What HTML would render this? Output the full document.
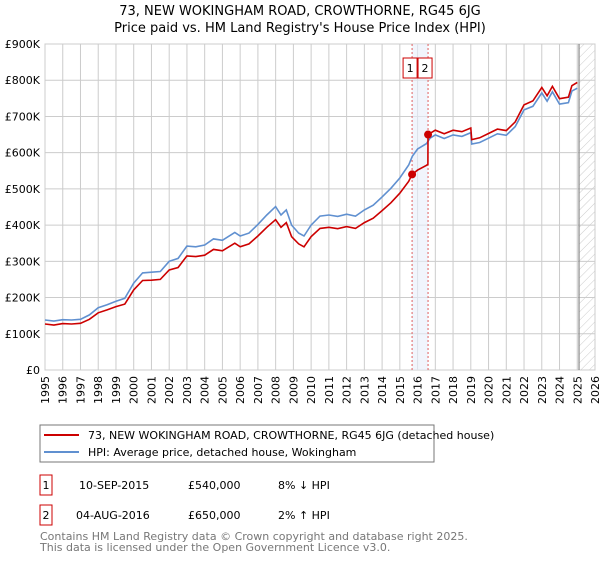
<!DOCTYPE html>
<html><head><meta charset="utf-8"><style>
body{margin:0;background:#fff;font-family:"DejaVu Sans","Liberation Sans",sans-serif;}
svg text{font-family:"DejaVu Sans","Liberation Sans",sans-serif;}
</style></head><body>
<svg id="chart" width="600" height="560" viewBox="0 0 600 560" xmlns="http://www.w3.org/2000/svg">
<defs><pattern id="hatch" width="6" height="6" patternUnits="userSpaceOnUse" patternTransform="rotate(45)"><line x1="0" y1="0" x2="0" y2="6" stroke="#ccc" stroke-width="1"/></pattern></defs>
<text x="300" y="15" text-anchor="middle" font-size="13">73, NEW WOKINGHAM ROAD, CROWTHORNE, RG45 6JG</text>
<text x="300" y="32" text-anchor="middle" font-size="13">Price paid vs. HM Land Registry's House Price Index (HPI)</text>
<g id="grid"></g><g id="marks"></g><g id="axes"></g>
<rect x="40" y="425" width="394" height="37" fill="#fff" stroke="#777"/>
<line x1="44" y1="435" x2="79" y2="435" stroke="#cc0000" stroke-width="2"/>
<text x="88" y="439" font-size="11">73, NEW WOKINGHAM ROAD, CROWTHORNE, RG45 6JG (detached house)</text>
<line x1="44" y1="452" x2="79" y2="452" stroke="#6090d0" stroke-width="2"/>
<text x="88" y="456" font-size="11">HPI: Average price, detached house, Wokingham</text>
<g font-size="11">
<rect x="40" y="475" width="12" height="20" fill="none" stroke="#cc0000"/><text x="46" y="489" text-anchor="middle">1</text>
<text x="79" y="489">10-SEP-2015</text><text x="188" y="489">£540,000</text><text x="278" y="489">8% ↓ HPI</text></g>
<g font-size="11">
<rect x="40" y="505" width="12" height="20" fill="none" stroke="#cc0000"/><text x="46" y="519" text-anchor="middle">2</text>
<text x="76" y="519">04-AUG-2016</text><text x="188" y="519">£650,000</text><text x="278" y="519">2% ↑ HPI</text></g>
<text x="40" y="540" font-size="11" fill="#777">Contains HM Land Registry data © Crown copyright and database right 2025.</text>
<text x="40" y="551" font-size="11" fill="#777">This data is licensed under the Open Government Licence v3.0.</text>
</svg>
<script>
const hpiYears=[1995,1995.5,1996,1996.5,1997,1997.5,1998,1998.5,1999,1999.5,2000,2000.5,2001,2001.5,2002,2002.5,2003,2003.5,2004,2004.5,2005,2005.7,2006,2006.5,2007,2007.5,2008,2008.3,2008.6,2008.9,2009.3,2009.6,2010,2010.5,2011,2011.5,2012,2012.5,2013,2013.5,2014,2014.5,2015,2015.5,2015.7,2016,2016.5,2016.7,2017,2017.5,2018,2018.5,2019,2019.05,2019.5,2020,2020.5,2021,2021.5,2022,2022.5,2023,2023.3,2023.6,2024,2024.5,2024.7,2025];
const hpiValues=[138,135,139,138,140,152,172,180,190,198,240,268,270,272,300,308,342,340,345,362,358,380,370,378,402,428,451,428,442,400,378,370,400,425,428,424,430,425,442,455,478,502,530,566,590,610,625,640,649,639,649,645,655,624,628,640,652,648,672,718,728,765,742,768,734,738,770,778];
const priceYears=[1995,1995.5,1996,1996.5,1997,1997.5,1998,1998.5,1999,1999.5,2000,2000.5,2001,2001.5,2002,2002.5,2003,2003.5,2004,2004.5,2005,2005.7,2006,2006.5,2007,2007.5,2008,2008.3,2008.6,2008.9,2009.3,2009.6,2010,2010.5,2011,2011.5,2012,2012.5,2013,2013.5,2014,2014.5,2015,2015.5,2015.69,2016,2016.5,2016.58,2016.59,2017,2017.5,2018,2018.5,2019,2019.05,2019.5,2020,2020.5,2021,2021.5,2022,2022.5,2023,2023.3,2023.6,2024,2024.5,2024.7,2025];
const priceValues=[127,124,128,127,129,140,158,166,175,182,221,247,248,250,276,283,315,313,317,333,329,350,340,348,370,394,415,394,407,368,348,340,368,391,394,390,396,391,407,419,440,462,488,521,540,552,565,568,650,662,652,662,658,668,636,641,653,665,661,685,732,743,780,757,783,749,753,785,794];
const saleYears=[2015.69,2016.59];
const saleValues=[540,650];
const saleLabels=["1","2"];
const yTicks=[0,100,200,300,400,500,600,700,800,900];
const yTickLabels=["£0","£100K","£200K","£300K","£400K","£500K","£600K","£700K","£800K","£900K"];
const xTicks=[1995,1996,1997,1998,1999,2000,2001,2002,2003,2004,2005,2006,2007,2008,2009,2010,2011,2012,2013,2014,2015,2016,2017,2018,2019,2020,2021,2022,2023,2024,2025,2026];
const dataEndYear=2025.1;

const X0=45,X1=595,Y0=370,Y1=44;
const xs=y=>X0+(y-1995)/(2026-1995)*(X1-X0);
const ys=v=>Y0-v/900*(Y0-Y1);
const NS="http://www.w3.org/2000/svg";
function mk(parent,tag,attrs){const e=document.createElementNS(NS,tag);for(const k in attrs)e.setAttribute(k,attrs[k]);parent.appendChild(e);return e;}
const grid=document.getElementById('grid'),marks=document.getElementById('marks'),axes=document.getElementById('axes');
let r=mk(grid,'rect',{x:X0,y:Y1,width:X1-X0,height:Y0-Y1,fill:'#fff',stroke:'#ccc'});


yTicks.forEach((v,i)=>{
 const l=mk(grid,'line',{x1:X0,x2:X1,y1:ys(v),y2:ys(v),stroke:'#ccc'});
 
 
 const t=mk(axes,'text',{x:X0-5,y:ys(v)+4,'text-anchor':'end','font-size':'11'});
 t.textContent=yTickLabels[i];
 
 
});
xTicks.forEach(yr=>{
 const l=mk(grid,'line',{x1:xs(yr),x2:xs(yr),y1:Y1,y2:Y0,stroke:'#ccc'});
 
 
 const x=xs(yr)+4,y=Y0+6;
 const t=mk(axes,'text',{x:x,y:y,'text-anchor':'end','font-size':'11',transform:`rotate(-90 ${x} ${y})`});
 t.textContent=yr;
 
 
});
const h=mk(grid,'rect',{x:xs(dataEndYear),y:Y1,width:X1-xs(dataEndYear),height:Y0-Y1,fill:'url(#hatch)'});


const el=mk(grid,'line',{x1:xs(dataEndYear),x2:xs(dataEndYear),y1:Y1,y2:Y0,stroke:'#888','stroke-width':1.2});


const band=mk(grid,'rect',{x:xs(saleYears[0]),y:Y1,width:xs(saleYears[1])-xs(saleYears[0]),height:Y0-Y1,fill:'#e8eefa',opacity:0.6});


saleYears.forEach((yr,i)=>{
 const l=mk(grid,'line',{x1:xs(yr),x2:xs(yr),y1:Y1,y2:Y0,stroke:'#e06060','stroke-dasharray':'2,2'});
 
 
 const bx=xs(yr)-(i===0?9:10);
 const b=mk(axes,'rect',{x:bx,y:58,width:14,height:20,fill:'#fff',stroke:'#cc0000'});
 
 
 const t=mk(axes,'text',{x:bx+7,y:72,'text-anchor':'middle','font-size':'11'});
 t.textContent=saleLabels[i];
 
 
});
const pts=(xa,va)=>xa.map((x,i)=>xs(x).toFixed(1)+','+ys(va[i]).toFixed(1)).join(' ');
const hl=mk(marks,'polyline',{points:pts(hpiYears,hpiValues),fill:'none',stroke:'#6090d0','stroke-width':1.6});


const pl=mk(marks,'polyline',{points:pts(priceYears,priceValues),fill:'none',stroke:'#cc0000','stroke-width':1.6});


saleYears.forEach((yr,i)=>{
 const c=mk(marks,'circle',{cx:xs(yr),cy:ys(saleValues[i]),r:4,fill:'#cc0000'});
 
 
});
</script>
</body></html>
